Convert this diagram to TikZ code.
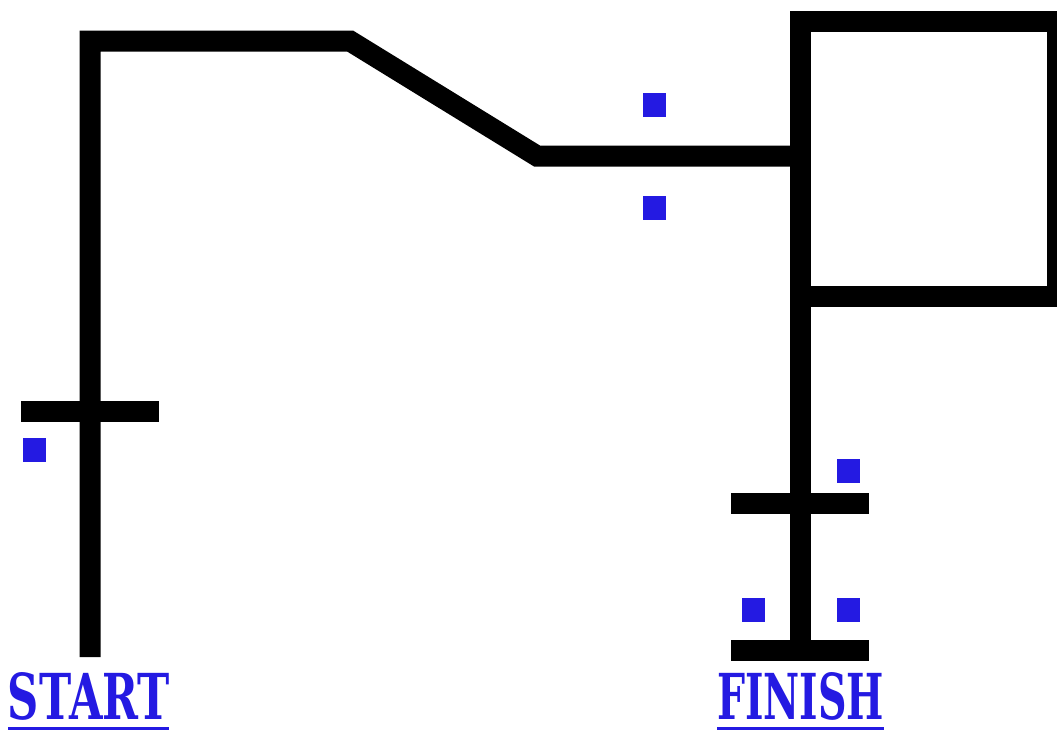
\documentclass[tikz,border=0pt]{standalone}
\usepackage{fontspec}
\setmainfont{DejaVu Serif}
\usepackage{graphicx}
\definecolor{markblue}{RGB}{36,26,226}
\tikzset{
  bar/.style={line width=21pt, black, line cap=butt, line join=miter},
  mark sq/.style={fill=markblue, draw=none, minimum width=23pt, minimum height=24pt, inner sep=0pt, outer sep=0pt},
  label txt/.style={text=markblue, inner sep=0pt, outer sep=0pt, anchor=south west},
  uline/.style={draw=markblue, line width=3.5pt}
}
\begin{document}
\begin{tikzpicture}[x=1pt,y=-1pt]
\useasboundingbox (0,0) rectangle (1057,731);
\fill[white] (0,0) rectangle (1057,731);
% coordinates
\coordinate (sbot) at (90,657);
\coordinate (stl) at (90,41);
\coordinate (stopr) at (350,41);
\coordinate (dend) at (537,156);
\coordinate (boxl) at (800,156);
\coordinate (boxtl) at (800,21);
\coordinate (boxbr) at (1057,296);
\coordinate (fbl) at (800,296);
\coordinate (fbot) at (800,650);
% start line
\draw[bar] (sbot) -- (stl) -- (stopr) -- (dend) -- (boxl);
% box
\draw[bar] (boxtl) rectangle (boxbr);
% finish vertical
\draw[bar] (fbl) -- (fbot);
% crossbars
\draw[bar] (21,411) -- (159,411);
\draw[bar] (731,503.5) -- (869,503.5);
\draw[bar] (731,650) -- (869,650);
% markers
\node[mark sq] (m1) at (34.5,449.5) {};
\node[mark sq] (m2) at (654,104.5) {};
\node[mark sq] (m3) at (654,207.5) {};
\node[mark sq] (m4) at (848,470.5) {};
\node[mark sq] (m5) at (753.5,609.5) {};
\node[mark sq] (m6) at (848,609.5) {};
% labels
\node[label txt] (start) at (8,720) {\resizebox{162pt}{47pt}{\bfseries START}};
\node[label txt] (finish) at (717,720) {\resizebox{167pt}{47pt}{\bfseries FINISH}};
\draw[uline] (start.south west) ++(0,8.5) -- ++(161,0);
\draw[uline] (finish.south west) ++(0,8.5) -- ++(167,0);
\end{tikzpicture}
\end{document}
